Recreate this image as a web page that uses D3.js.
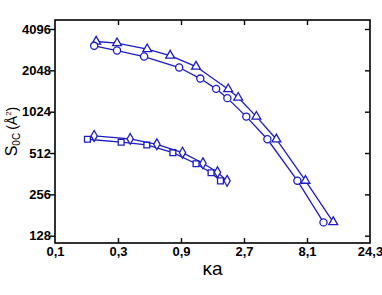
<!DOCTYPE html>
<html>
<head>
<meta charset="utf-8">
<script src="https://cdn.jsdelivr.net/npm/d3@7"></script>
<style>
  body { margin: 0; background: #fff; }
  .tick text { font-family: "Liberation Sans", Arial, sans-serif; font-weight: bold; font-size: 13px; fill: #000; }
</style>
</head>
<body>
<div id="canvas"></div>
<script>
// tick labels
const xTicks = [0.1, 0.3, 0.9, 2.7, 8.1, 24.3];
const xTickLabels = ['0,1', '0,3', '0,9', '2,7', '8,1', '24,3'];
const yTicks = [128, 256, 512, 1024, 2048, 4096];

// upper pair
const circleX = [0.198, 0.295, 0.473, 0.872, 1.26, 1.66, 2.02, 2.81, 4.06, 6.85, 10.8];
const circleY = [3090, 2855, 2582, 2147, 1784, 1501, 1285, 943, 645, 322, 160];
const triangleX = [0.205, 0.295, 0.499, 0.745, 1.17, 2.05, 2.44, 3.35, 4.75, 7.88, 12.8];
const triangleY = [3321, 3233, 2923, 2625, 2183, 1494, 1297, 943, 645, 322, 161];

// lower pair
const squareX = [0.176, 0.317, 0.496, 0.781, 1.17, 1.52, 1.79];
const squareY = [645, 614, 586, 515, 428, 368, 321];
const diamondX = [0.198, 0.371, 0.591, 0.924, 1.32, 1.70, 2.01];
const diamondY = [682, 649, 593, 515, 431, 371, 321];

const w = 382;
const h = 295;
const pLeft = 55, pRight = 370, pTop = 20, pBottom = 243;
const blue = '#1c1cc4';

const svg = d3.select('#canvas')
  .append('svg')
  .attr('width', w)
  .attr('height', h);

const x = d3.scaleLog().base(3)
  .domain([0.1, 24.3])
  .range([pLeft, pRight]);

// 128 sits at 235.7, 4096 at 29
const y = d3.scaleLog().base(2)
  .domain([128, 4096])
  .range([235.7, 29]);

// frame
svg.append('rect')
  .attr('x', pLeft).attr('y', pTop)
  .attr('width', pRight - pLeft).attr('height', pBottom - pTop)
  .attr('fill', 'none').attr('stroke', '#000').attr('stroke-width', 1.6);

const xAxis = svg.append('g')
  .attr('transform', 'translate(0,' + pBottom + ')')
  .call(d3.axisBottom(x).tickValues(xTicks).tickFormat((d, i) => xTickLabels[i])
    .tickSizeInner(-5).tickSizeOuter(0).tickPadding(4));

const xTop = svg.append('g')
  .attr('transform', 'translate(0,' + pTop + ')')
  .call(d3.axisTop(x).tickValues(xTicks).tickFormat('')
    .tickSizeInner(-5).tickSizeOuter(0));

const yAxis = svg.append('g')
  .attr('transform', 'translate(' + pLeft + ',0)')
  .call(d3.axisLeft(y).tickValues(yTicks).tickFormat(d3.format('d'))
    .tickSizeInner(5).tickSizeOuter(0).tickPadding(-1));

const yRight = svg.append('g')
  .attr('transform', 'translate(' + pRight + ',0)')
  .call(d3.axisRight(y).tickValues(yTicks).tickFormat('')
    .tickSizeInner(-5).tickSizeOuter(0));

svg.selectAll('.domain').remove();
svg.selectAll('.tick line').attr('stroke', '#000').attr('stroke-width', 1.4);
// ticks sitting on the frame corners are not drawn in the original
xAxis.selectAll('.tick line').filter(d => d === 0.1 || d === 24.3).remove();
xTop.selectAll('.tick line').filter(d => d === 0.1 || d === 24.3).remove();

// axis titles
const yLabel = svg.append('text')
  .attr('transform', 'translate(17,' + ((pTop + pBottom) / 2) + ') rotate(-90)')
  .attr('text-anchor', 'middle')
  .style('font-family', '"Liberation Sans", Arial, sans-serif')
  .style('font-size', '16px');
yLabel.append('tspan').text('S');
yLabel.append('tspan').attr('dy', 3).style('font-size', '10px').text('0C');
yLabel.append('tspan').attr('dy', -3).attr('dx', 3).style('font-size', '14px').text('(Å');
yLabel.append('tspan').attr('dy', -6).style('font-size', '8px').text('2');
yLabel.append('tspan').attr('dy', 6).style('font-size', '14px').text(')');

svg.append('text')
  .attr('x', (pLeft + pRight) / 2)
  .attr('y', 275)
  .attr('text-anchor', 'middle')
  .style('font-family', '"Liberation Sans", Arial, sans-serif')
  .style('font-size', '19px')
  .text('κa');

const line = d3.line().x(d => x(d[0])).y(d => y(d[1]));

function series(xs, ys, symbol, size) {
  const pts = xs.map((v, i) => [v, ys[i]]);
  svg.append('path')
    .datum(pts)
    .attr('d', line)
    .attr('fill', 'none')
    .attr('stroke', blue)
    .attr('stroke-width', 1.3);
  svg.append('g')
    .selectAll('path')
    .data(pts)
    .enter()
    .append('path')
    .attr('transform', d => 'translate(' + x(d[0]) + ',' + y(d[1]) + ')')
    .attr('d', d3.symbol().type(symbol).size(size))
    .attr('fill', '#fff')
    .attr('stroke', blue)
    .attr('stroke-width', 1.3);
}

series(triangleX, triangleY, d3.symbolTriangle, 34);
series(circleX, circleY, d3.symbolCircle, 40);
series(squareX, squareY, d3.symbolSquare, 34);
series(diamondX, diamondY, d3.symbolDiamond, 34);
</script>
</body>
</html>
